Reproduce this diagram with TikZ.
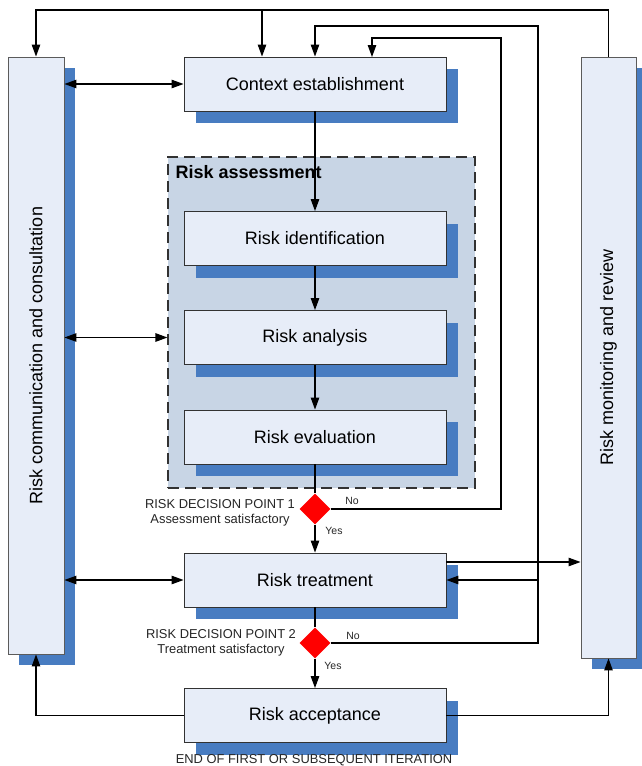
\documentclass[tikz,border=0pt]{standalone}
\usepackage{fontspec}
\setmainfont{Liberation Sans}
\usetikzlibrary{shapes.geometric,shadows,arrows.meta,calc}
\definecolor{boxfill}{RGB}{231,237,248}
\definecolor{shadowblue}{RGB}{72,124,193}
\definecolor{areafill}{RGB}{200,213,229}
\definecolor{edgegray}{RGB}{50,50,50}
\tikzset{
  procbox/.style={draw=edgegray, line width=0.9pt, fill=boxfill, inner sep=0pt,
    minimum width=262pt, minimum height=54pt,
    font=\fontsize{18}{21}\selectfont,
    general shadow={fill=shadowblue, shadow xshift=12pt, shadow yshift=-12pt}},
  sidepanel/.style={draw=edgegray!80, line width=0.9pt, fill=boxfill, inner sep=0pt,
    minimum width=56pt, font=\fontsize{18}{21}\selectfont,
    general shadow={fill=shadowblue, shadow xshift=11pt, shadow yshift=-11pt}},
  decision/.style={diamond, fill=red, inner sep=0pt, minimum width=31pt, minimum height=31pt},
  smalllabel/.style={font=\fontsize{12.9}{15}\selectfont, align=center, text=black!85},
  yesno/.style={font=\fontsize{10.5}{12}\selectfont, text=black!85},
  arr/.style={line width=1.1pt, -{Triangle[length=12pt,width=8.5pt]}},
  darr/.style={line width=1.1pt, {Triangle[length=12pt,width=8.5pt]}-{Triangle[length=12pt,width=8.5pt]}},
  plain/.style={line width=1.1pt},
  areabox/.style={draw=edgegray, dash pattern=on 11pt off 6pt, line width=1.1pt, fill=areafill, inner sep=0pt},
}
\begin{document}
\begin{tikzpicture}[x=1pt,y=-1pt]
\useasboundingbox (0,0) rectangle (642,766);

% risk assessment area
\node[areabox, minimum width=307pt, minimum height=331pt] (ra) at (321.5,322.5) {};
\node[anchor=west, font=\fontsize{18}{21}\selectfont\bfseries] (ralabel) at (172,172) {Risk assessment};

% side panels
\node[sidepanel, minimum height=597pt] (lc) at (36,355.5) {};
\node[rotate=90, font=\fontsize{18}{21}\selectfont] (lctext) at (36,355.5) {Risk communication and consultation};
\node[sidepanel, minimum width=55pt, minimum height=601pt] (rm) at (608.5,357.5) {};
\node[rotate=90, font=\fontsize{18}{21}\selectfont] (rmtext) at (608.5,357.5) {Risk monitoring and review};

% process boxes
\node[procbox] (ctx) at (315,84) {Context establishment};
\node[procbox] (rid) at (315,238.5) {Risk identification};
\node[procbox] (ana) at (315,337.5) {Risk analysis};
\node[procbox] (eva) at (315,437) {Risk evaluation};
\node[procbox] (trt) at (315,580) {Risk treatment};
\node[procbox] (acc) at (315,715.5) {Risk acceptance};

% decisions
\node[decision] (d1) at (315,509) {};
\node[decision] (d2) at (315,643) {};

% labels
\node[smalllabel] (d1lab) at (220,513) {RISK DECISION POINT 1\\Assessment satisfactory};
\node[smalllabel] (d2lab) at (221,643) {RISK DECISION POINT 2\\Treatment satisfactory};
\node[yesno] (d1no) at (352,501) {No};
\node[yesno] (d1yes) at (334,531) {Yes};
\node[yesno] (d2no) at (353,636) {No};
\node[yesno] (d2yes) at (333,666) {Yes};
\node[smalllabel] (endlab) at (314,760) {END OF FIRST OR SUBSEQUENT ITERATION};

% coordinates for routing
\coordinate (topR) at (608.5,10);
\coordinate (topL) at (36,10);
\coordinate (j1) at (262,10);
\coordinate (r2top) at (538,26);
\coordinate (r1top) at (501,38);
\coordinate (ctxin) at (372,57);

% top loop from monitoring
\draw[arr] (rm.north) -- (topR) -- (topL) -- (lc.north);
\draw[arr] (j1) -- (j1 |- ctx.north);

% decision loops
\draw[arr] (d2.east) -| (r2top) -| (ctx.north);
\draw[arr] (d1.east) -| (r1top) -| (ctxin);

% communication double arrows
\draw[darr] (lc.east |- ctx) -- (ctx.west);
\draw[darr] (lc.east |- ana) -- (ana -| ra.west);
\draw[darr] (lc.east |- trt) -- (trt.west);

% main chain
\draw[arr] (ctx.south) -- (rid.north);
\draw[arr] (rid.south) -- (ana.north);
\draw[arr] (ana.south) -- (eva.north);
\draw[plain] (eva.south) -- (d1.north);
\draw[arr] (d1.south) -- (trt.north);
\draw[plain] (trt.south) -- (d2.north);
\draw[arr] (d2.south) -- (acc.north);

% treatment and monitoring
\draw[arr] ([yshift=18pt]trt.east) -- ([yshift=18pt]trt.east -| rm.west);
\draw[arr] (r2top |- trt.east) -- (trt.east);

% acceptance back to panels
\draw[arr] (acc.west) -| (lc.south);
\draw[arr] (acc.east) -| (rm.south);
\end{tikzpicture}
\end{document}
